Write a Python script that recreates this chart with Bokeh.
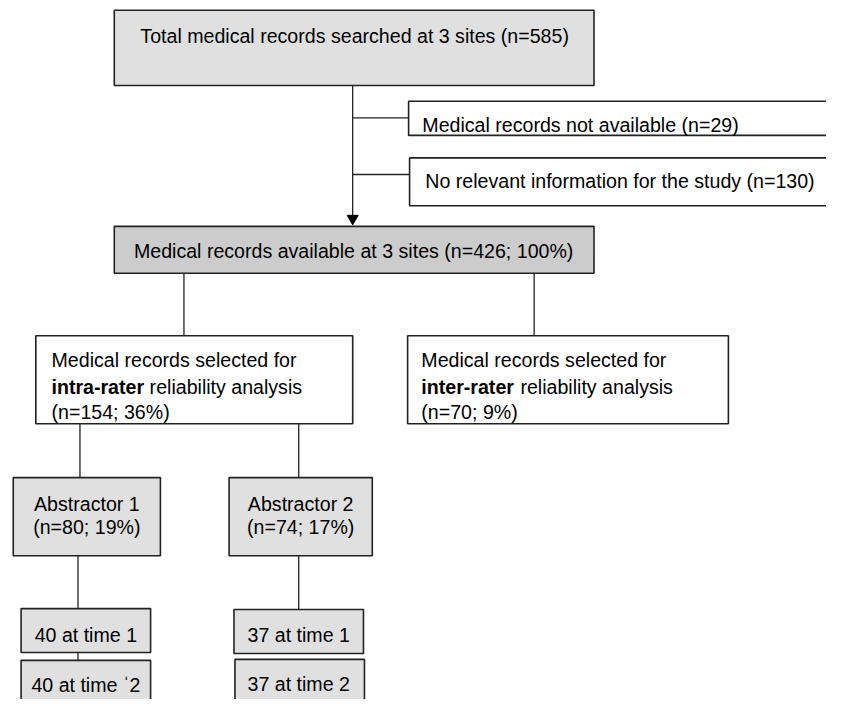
from bokeh.plotting import figure
from bokeh.models import Range1d, ColumnDataSource
from bokeh.core.properties import value
from bokeh.embed import file_html
from bokeh.resources import INLINE

# ---- data (flow counts) ----
total_searched = 585
not_available = 29
no_relevant = 130
available_n, available_pct = 426, 100
intra_n, intra_pct = 154, 36
inter_n, inter_pct = 70, 9
abstractor_names = ["Abstractor 1", "Abstractor 2"]
abstractor_n = [80, 74]
abstractor_pct = [19, 17]
time_counts = [40, 37]
time_labels = ["time 1", "time 2"]

W, H = 826, 699
S = W / 842.0
FONT = value("Liberation Sans")
FS = f"{20 * S:.1f}px"

p = figure(width=W, height=H, output_backend="svg", toolbar_location=None,
           x_range=Range1d(0, 842), y_range=Range1d(715, 0),
           min_border=0, outline_line_color=None)
p.axis.visible = False
p.grid.visible = False
p.background_fill_color = "white"
p.border_fill_color = "white"

# ---- layout (boxes: left, right, top, bottom, fill) ----
boxes = [
    (116, 605, 10, 87, "#e0e0e0"),    # total
    (416, 860, 103, 138, "white"),    # not available
    (417, 860, 161, 210, "white"),    # no relevant
    (116, 605, 231, 279, "#cccccc"),  # available
    (36, 359, 343, 433, "white"),     # intra
    (415, 742, 343, 433, "white"),    # inter
    (13, 163, 488, 568, "#e0e0e0"),   # abstractor 1
    (233, 379, 488, 568, "#e0e0e0"),  # abstractor 2
    (21, 153, 622, 667, "#e0e0e0"),
    (21, 153, 675, 740, "#e0e0e0"),
    (238, 370, 623, 668, "#e0e0e0"),
    (239, 371, 674, 740, "#e0e0e0"),
]
src = ColumnDataSource(dict(
    left=[b[0] for b in boxes], right=[b[1] for b in boxes],
    top=[b[2] for b in boxes], bottom=[b[3] for b in boxes],
    fill=[b[4] for b in boxes]))

# connectors
conn = [
    (359, 87, 359, 220),
    (359, 120, 416, 120),
    (359, 178, 417, 178),
    (187, 279, 187, 343),
    (544, 279, 544, 343),
    (81, 433, 81, 488),
    (304, 433, 304, 488),
    (79, 568, 79, 622),
    (304, 568, 304, 623),
    (79, 667, 79, 675),
]
p.segment(x0=[c[0] for c in conn], y0=[c[1] for c in conn],
          x1=[c[2] for c in conn], y1=[c[3] for c in conn],
          line_color="#222222", line_width=1.3)
p.scatter(x=[359], y=[223], marker="inverted_triangle", size=11,
          fill_color="black", line_color="black")

p.quad(left="left", right="right", top="top", bottom="bottom", source=src,
       fill_color="fill", line_color="#222222", line_width=1.6)

def txt(x, y, s, align="left", style="normal"):
    p.text(x=[x], y=[y], text=[s], text_font=FONT, text_font_size=FS,
           text_align=align, text_baseline="alphabetic", text_color="#000000",
           text_font_style=style)

txt(361, 36, f"Total medical records searched at 3 sites (n={total_searched})", "center")
txt(430, 127, f"Medical records not available (n={not_available})")
txt(433, 185, f"No relevant information for the study (n={no_relevant})")
txt(360, 256, f"Medical records available at 3 sites (n={available_n}; {available_pct}%)", "center")

txt(52, 368, "Medical records selected for")
txt(52, 395, "intra-rater", style="bold")
txt(152, 395, "reliability analysis")
txt(52, 421, f"(n={intra_n}; {intra_pct}%)")

txt(429, 368, "Medical records selected for")
txt(429, 395, "inter-rater", style="bold")
txt(530, 395, "reliability analysis")
txt(429, 421, f"(n={inter_n}; {inter_pct}%)")

for cx, name, n, pc in zip([88, 306], abstractor_names, abstractor_n, abstractor_pct):
    txt(cx, 515, name, "center")
    txt(cx, 539, f"(n={n}; {pc}%)", "center")

txt(87, 649, f"{time_counts[0]} at {time_labels[0]}", "center")
txt(87, 700, f"{time_counts[0]} at time \u02c82", "center")
txt(304, 649, f"{time_counts[1]} at {time_labels[0]}", "center")
txt(304, 699, f"{time_counts[1]} at {time_labels[1]}", "center")

open("out.html", "w").write(file_html(p, INLINE))
